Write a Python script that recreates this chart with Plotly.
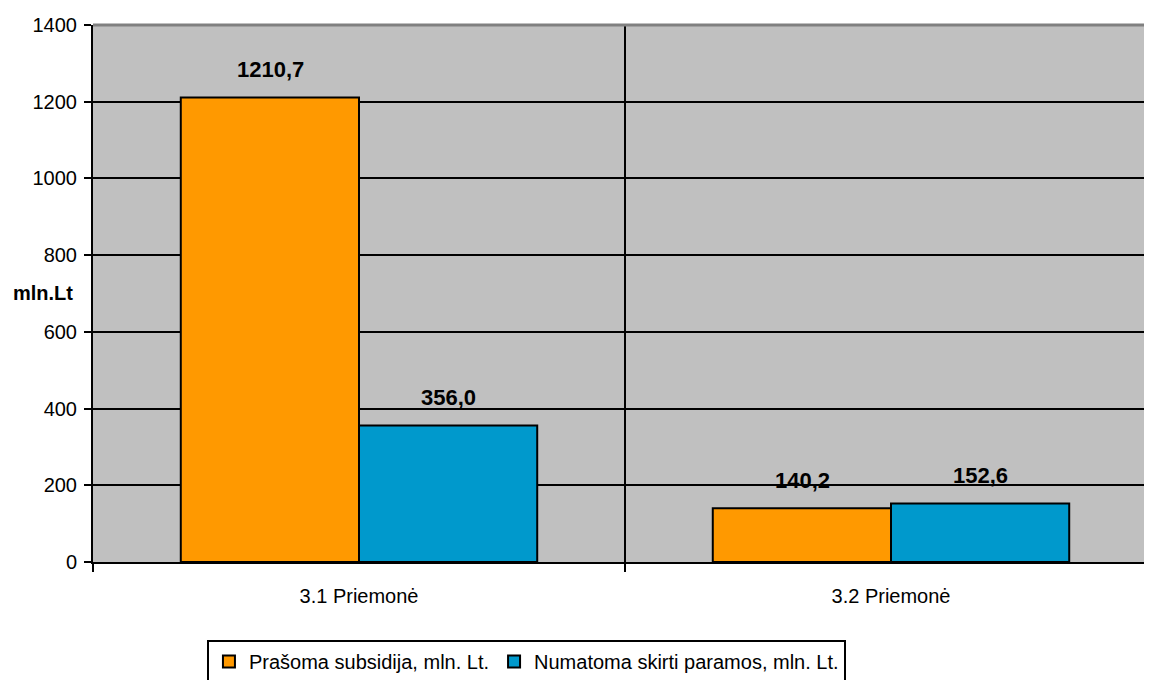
import plotly.graph_objects as go

categories = ["3.1 Priemonė", "3.2 Priemonė"]
series_names = ["Prašoma subsidija, mln. Lt.", "Numatoma skirti paramos, mln. Lt."]
requested = [1210.7, 140.2]
planned = [356.0, 152.6]
colors = ["#FF9900", "#0099CC"]
y_ticks = [0, 200, 400, 600, 800, 1000, 1200, 1400]

FONT = "Liberation Sans, Arial, sans-serif"

fig = go.Figure()
for name, vals, col in zip(series_names, [requested, planned], colors):
    fig.add_trace(go.Bar(
        x=categories, y=vals, name=name,
        marker=dict(color=col, line=dict(color="black", width=2)),
    ))

annotations = []
for vals, shift in zip([requested, planned], [-89, 89]):
    for c, v in zip(categories, vals):
        annotations.append(dict(
            x=c, y=v, xref="x", yref="y", xshift=shift, yshift=28,
            text=f"{v:.1f}".replace(".", ","), showarrow=False,
            yanchor="middle", xanchor="center",
            font=dict(family=FONT, size=22, color="black", weight="bold"),
        ))
annotations.append(dict(
    x=-0.0472, y=0.501, xref="paper", yref="paper", text="<b>mln.Lt</b>",
    showarrow=False, xanchor="center", yanchor="middle",
    font=dict(family=FONT, size=20, color="black"),
))

fig.update_layout(
    width=1144, height=672,
    margin=dict(l=85, r=0, t=17, b=118, autoexpand=False),
    paper_bgcolor="white", plot_bgcolor="#C0C0C0",
    barmode="group", bargap=0.33, bargroupgap=0,
    font=dict(family=FONT, color="black"),
    annotations=annotations,
    showlegend=True,
    legend=dict(
        orientation="h", x=0.4093, xanchor="center", y=-0.1453, yanchor="top",
        bgcolor="white", bordercolor="black", borderwidth=2,
        font=dict(family=FONT, size=20, color="black"),
        itemwidth=30, tracegroupgap=0,
    ),
    xaxis=dict(
        range=[-0.5, 1.4906], tickson="boundaries",
        showgrid=True, gridcolor="black", gridwidth=2,
        ticks="outside", ticklen=8, tickwidth=2, tickcolor="black",
        showline=True, linecolor="black", linewidth=2,
        tickfont=dict(family=FONT, size=20, color="black"),
        ticklabelstandoff=15,
        fixedrange=True, automargin=False,
    ),
    yaxis=dict(
        range=[0, 1400], tickvals=y_ticks,
        showgrid=True, gridcolor="black", gridwidth=2,
        ticks="outside", ticklen=7, tickwidth=2, tickcolor="black",
        showline=True, linecolor="black", linewidth=2,
        tickfont=dict(family=FONT, size=20, color="black"),
        ticklabelstandoff=3,
        zeroline=False, fixedrange=True, automargin=False,
    ),
    shapes=[dict(type="line", xref="paper", yref="paper", x0=0, x1=1, y0=1, y1=1,
                 line=dict(color="#808080", width=3), layer="above")],
)

fig.write_html("out.html")
